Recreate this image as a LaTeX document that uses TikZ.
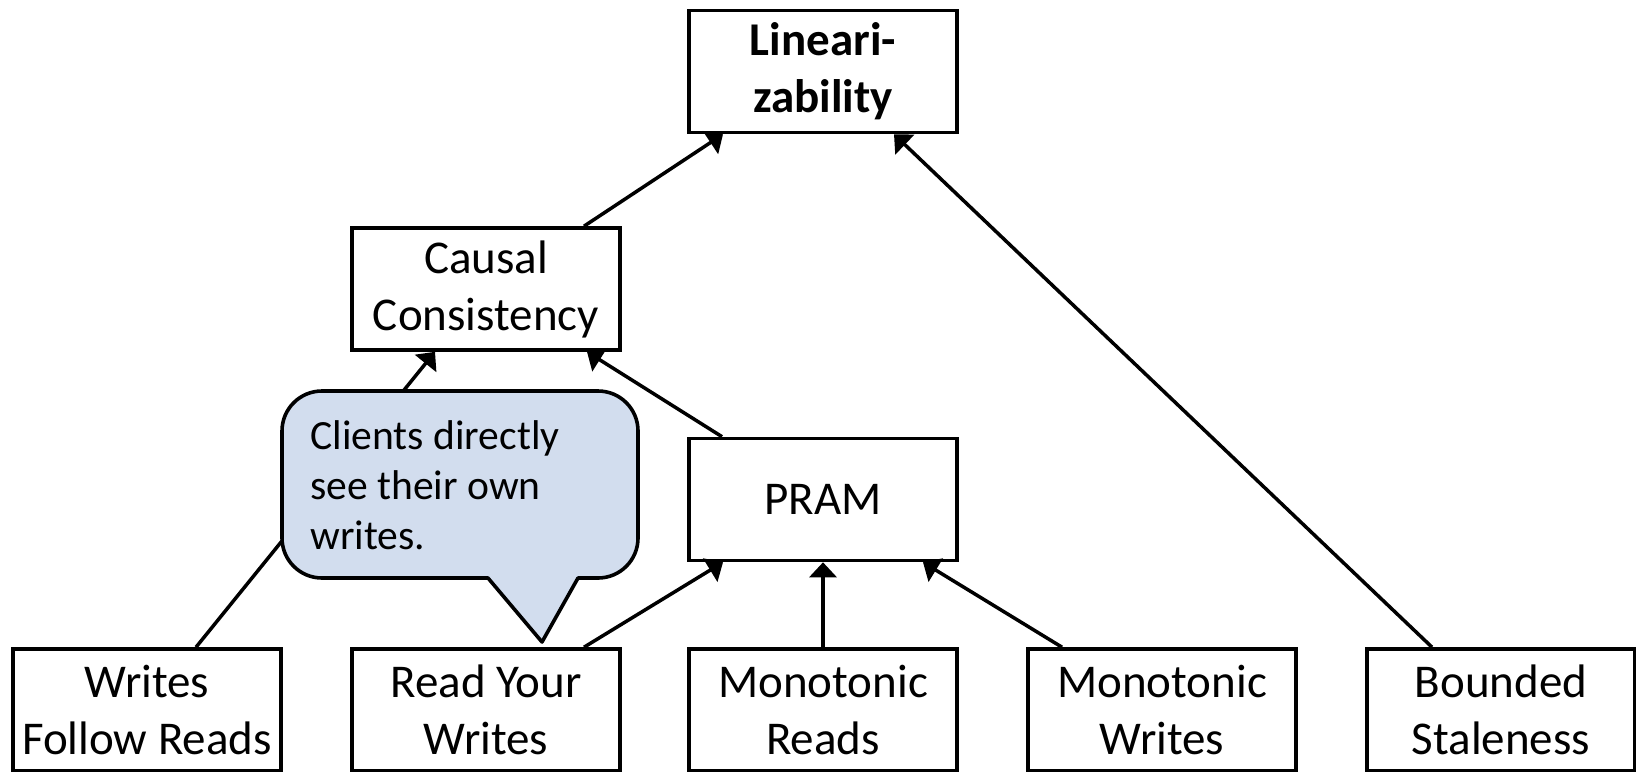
\documentclass[tikz,border=0pt]{standalone}
\usepackage{fontspec}
\setmainfont{Carlito}
\usetikzlibrary{arrows.meta,calc}
\definecolor{calloutfill}{HTML}{D2DDEE}
\begin{document}
\begin{tikzpicture}[x=0.5pt,y=-0.5pt,
  level/.style={draw, line width=1.8pt, fill=white, minimum width=134pt,
    minimum height=61pt, inner sep=0pt, align=center,
    font=\fontsize{23.5}{28.5}\selectfont},
  link/.style={line width=1.75pt, -{Triangle[width=13.5pt,length=7.5pt]}},
  callout/.style={draw, line width=1.8pt, fill=calloutfill, line join=round}]
\useasboundingbox (0,0) rectangle (1636,771);
\clip (0,0) rectangle (1636,771);

% consistency models
\node[level] (lin)    at (823,71.5) {\bfseries Lineari-\\\bfseries zability};
\node[level] (causal) at (486,289)  {Causal\\Consistency};
\node[level] (pram)   at (823,499.5) {PRAM};
\node[level] (wfr)    at (147,710)  {Writes\\Follow Reads};
\node[level] (ryw)    at (486,710)  {Read Your\\Writes};
\node[level] (mr)     at (823,710)  {Monotonic\\Reads};
\node[level] (mw)     at (1162,710) {Monotonic\\Writes};
\node[level] (bs)     at (1501,710) {Bounded\\Staleness};

% implications
\draw[link] ($(causal.north)+(98,0)$) -- ($(lin.south)+(-100,0)$);
\draw[link] ($(bs.north)+(-69,0)$)    -- ($(lin.south)+(71,0)$);
\draw[link] ($(wfr.north)+(49,0)$)    -- ($(causal.south)+(-51,0)$);
\draw[link] ($(pram.north)+(-101,0)$) -- ($(causal.south)+(101,0)$);
\draw[link] ($(ryw.north)+(98,0)$)    -- ($(pram.south)+(-100,0)$);
\draw[link] (mr.north) -- (pram.south);
\draw[link] ($(mw.north)+(-100,0)$)   -- ($(pram.south)+(100,0)$);

% speech bubble
\path[callout] (322,391) -- (598,391)
  .. controls (620.1,391) and (638,408.9) .. (638,431) -- (638,538)
  .. controls (638,560.1) and (620.1,578) .. (598,578) -- (578,578)
  -- (542,642) -- (488,578) -- (322,578)
  .. controls (299.9,578) and (282,560.1) .. (282,538) -- (282,431)
  .. controls (282,408.9) and (299.9,391) .. (322,391) -- cycle;
\node[anchor=base west, inner sep=0pt, font=\fontsize{20.8}{25}\selectfont]
  (note) at (310,449)
  {\begin{tabular}[t]{@{}l@{}}Clients directly\\ see their own\\ writes.\end{tabular}};
\end{tikzpicture}
\end{document}
